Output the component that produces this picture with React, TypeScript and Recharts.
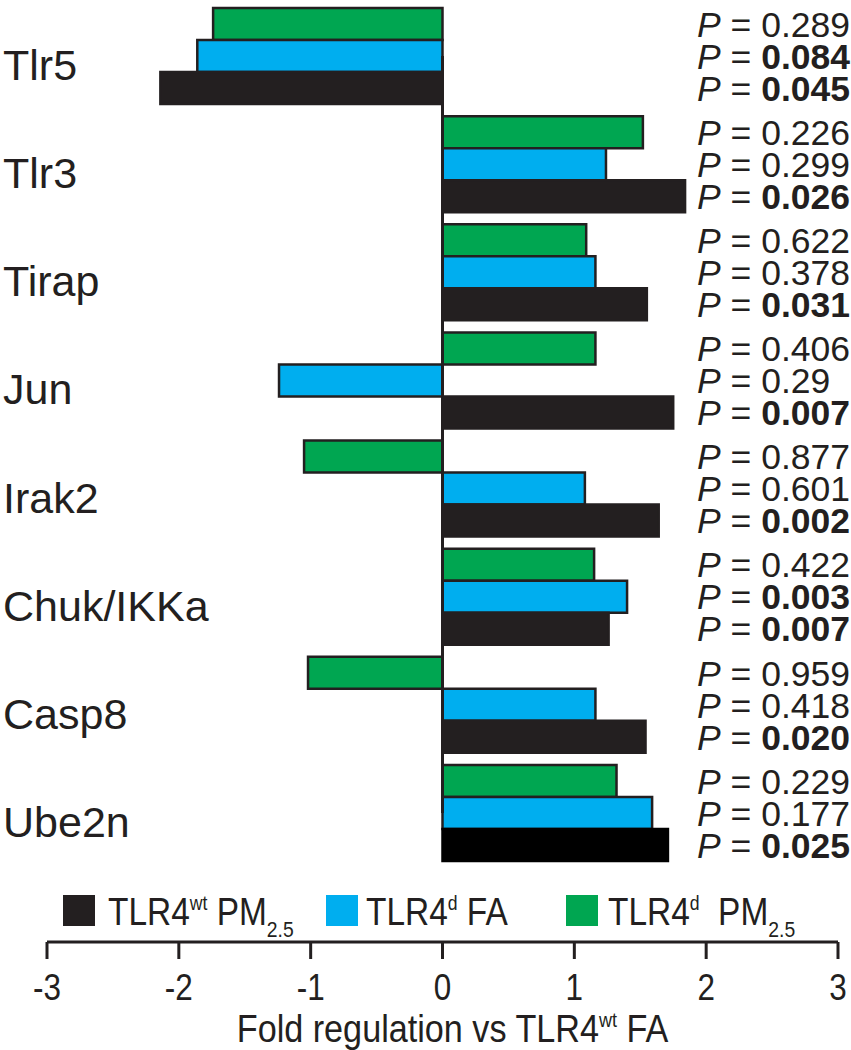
import React from "react";
import { BarChart, Bar, XAxis, YAxis, ReferenceLine, LabelList, Cell, Label } from "recharts";

const genes = ["Tlr5", "Tlr3", "Tirap", "Jun", "Irak2", "Chuk/IKKa", "Casp8", "Ube2n"];
const wtPM = [-2.14, 1.84, 1.55, 1.75, 1.64, 1.26, 1.54, 1.71];
const dFA = [-1.86, 1.24, 1.16, -1.24, 1.08, 1.4, 1.16, 1.59];
const dPM = [-1.74, 1.52, 1.09, 1.16, -1.05, 1.15, -1.02, 1.32];
const pWtPM = ["0.045", "0.026", "0.031", "0.007", "0.002", "0.007", "0.020", "0.025"];
const pDFA = ["0.084", "0.299", "0.378", "0.29", "0.601", "0.003", "0.418", "0.177"];
const pDPM = ["0.289", "0.226", "0.622", "0.406", "0.877", "0.422", "0.959", "0.229"];
const xTicks = [-3, -2, -1, 0, 1, 2, 3];

const data = genes.map((gene, i) => ({ gene, wtPM: wtPM[i], dFA: dFA[i], dPM: dPM[i] }));

const INK = "#231f20";
const GREEN = "#00a651";
const BLUE = "#00aeef";
const sans = '"Liberation Sans", Arial, Helvetica, sans-serif';
const SQUEEZE = 0.85; // the figure uses a condensed face for axis + legend

const pLabel = (pvals: string[]) => (props: any) => {
  const { y, height, index } = props;
  const p = pvals[index];
  const bold = parseFloat(p) < 0.1;
  return (
    <text
      x={697}
      y={Number(y) + Number(height) / 2}
      dy="0.36em"
      textAnchor="start"
      fontSize={35.5}
      fontFamily={sans}
      fill={INK}
      style={{ whiteSpace: "pre" }}
    >
      <tspan fontStyle="italic">P</tspan>
      <tspan>{" = "}</tspan>
      <tspan fontWeight={bold ? 700 : 400}>{p}</tspan>
    </text>
  );
};

const GeneTick = (props: any) => (
  <text x={3} y={props.y} dy={24} textAnchor="start" fontSize={43} fontFamily={sans} fill={INK}>
    {props.payload.value}
  </text>
);

const ValueTick = (props: any) => (
  <g transform={`translate(${props.x},${props.y}) scale(${SQUEEZE},1)`}>
    <text x={0} y={0} dy={41} textAnchor="middle" fontSize={37} fontFamily={sans} fill={INK}>
      {props.payload.value}
    </text>
  </g>
);

const AxisTitle = (props: any) => {
  const vb = props.viewBox || {};
  return (
    <g transform={`translate(${vb.x + vb.width / 2 + 10},${vb.y + vb.height - 8}) scale(0.9,1)`}>
      <text x={0} y={0} textAnchor="middle" fontSize={38} fontFamily={sans} fill={INK} style={{ whiteSpace: "pre" }}>
        Fold regulation vs TLR4
        <tspan fontSize={20} dy={-15}>wt</tspan>
        <tspan dy={15}>{" FA"}</tspan>
      </text>
    </g>
  );
};

const legendItems = [
  { color: INK, box: 63, text: 108, sup: "wt", rest: " PM", sub: "2.5" },
  { color: BLUE, box: 326, text: 366, sup: "d", rest: " FA", sub: "" },
  { color: GREEN, box: 566, text: 608, sup: "d", rest: "  PM", sub: "2.5" },
];

function LegendRow() {
  return (
    <svg width={851} height={1050} style={{ position: "absolute", left: 0, top: 0, pointerEvents: "none" }}>
      {legendItems.map((it) => (
        <g key={it.color}>
          <rect x={it.box} y={895} width={32} height={31} fill={it.color} />
          <g transform={`translate(${it.text},925) scale(0.88,1)`}>
            <text x={0} y={0} fontSize={38} fontFamily={sans} fill={INK} style={{ whiteSpace: "pre" }}>
              TLR4
              <tspan fontSize={20} dy={-15}>{it.sup}</tspan>
              <tspan dy={15}>{it.rest}</tspan>
              {it.sub ? (
                <tspan fontSize={22} dy={12}>
                  {it.sub}
                </tspan>
              ) : null}
            </text>
          </g>
        </g>
      ))}
    </svg>
  );
}

export default function App() {
  return (
    <div style={{ position: "absolute", left: 0, top: 0, width: 851, height: 1050, background: "#fff" }}>
      <BarChart
        width={851}
        height={1050}
        data={data}
        layout="vertical"
        margin={{ top: 2, right: 13, left: 0, bottom: 0 }}
        barCategoryGap={6}
        barGap={0}
      >
        <XAxis
          type="number"
          domain={[-3, 3]}
          ticks={xTicks}
          interval={0}
          height={108}
          axisLine={{ stroke: INK, strokeWidth: 3 }}
          tickLine={{ stroke: INK, strokeWidth: 3 }}
          tickSize={17}
          tickMargin={0}
          tick={ValueTick}
        >
          <Label content={AxisTitle} />
        </XAxis>
        <YAxis
          type="category"
          dataKey="gene"
          width={47}
          axisLine={false}
          tickLine={false}
          padding={{ top: 0, bottom: 75 }}
          tick={GeneTick}
          interval={0}
        />
        <Bar dataKey="dPM" fill={GREEN} stroke={INK} strokeWidth={2.5} isAnimationActive={false}>
          <LabelList dataKey="dPM" content={pLabel(pDPM)} />
        </Bar>
        <Bar dataKey="dFA" fill={BLUE} stroke={INK} strokeWidth={2.5} isAnimationActive={false}>
          <LabelList dataKey="dFA" content={pLabel(pDFA)} />
        </Bar>
        <Bar dataKey="wtPM" fill={INK} stroke={INK} strokeWidth={2.5} isAnimationActive={false}>
          {genes.map((g) => (
            <Cell key={g} fill={g === "Ube2n" ? "#000" : INK} stroke={g === "Ube2n" ? "#000" : INK} />
          ))}
          <LabelList dataKey="wtPM" content={pLabel(pWtPM)} />
        </Bar>
        <ReferenceLine
          segment={[
            { x: 0, y: genes[0] },
            { x: 0, y: genes[genes.length - 1] },
          ]}
          stroke={INK}
          strokeWidth={3}
        />
      </BarChart>
      <LegendRow />
    </div>
  );
}
